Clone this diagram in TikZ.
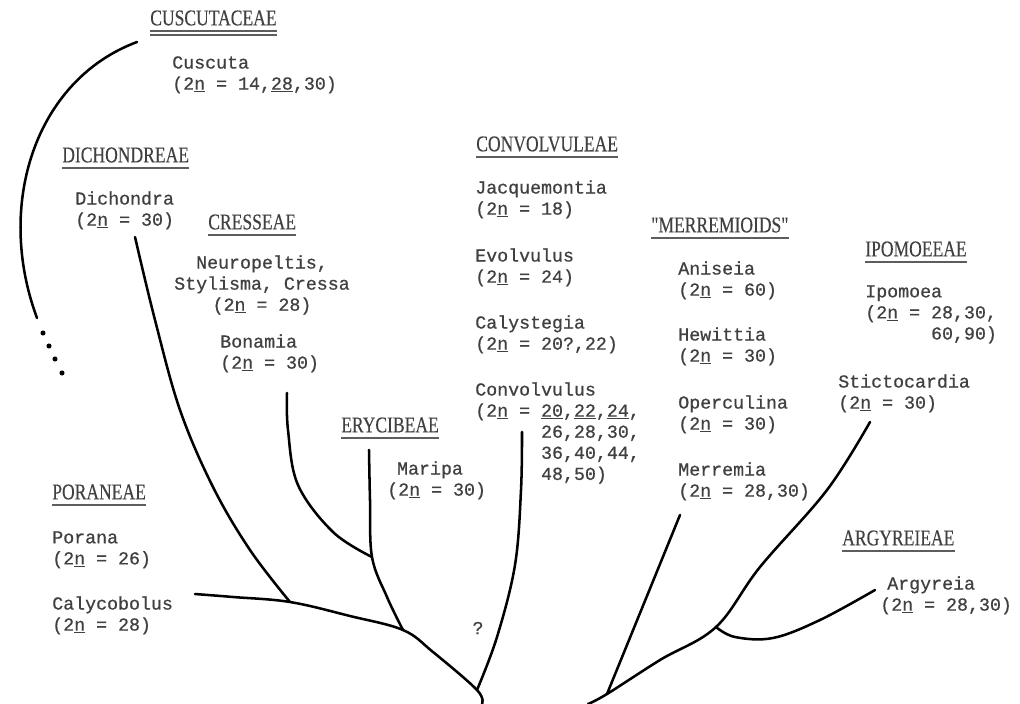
\documentclass[tikz,border=0pt]{standalone}
\usepackage{fontspec}
\setmonofont[FakeBold=0.7]{Liberation Mono}
\newfontfamily\headfont[FakeStretch=0.78,FakeBold=0.3]{Liberation Serif}
\usepackage{tikz}
\usetikzlibrary{positioning}
\definecolor{ink}{HTML}{404040}
\newcommand{\twon}{2\underline{n}}
\newcommand{\cont}{\hphantom{(2n = }}

\begin{document}
\begin{tikzpicture}[x=0.025cm,y=-0.025cm,
  tribe/.style={anchor=west,inner sep=0pt,text=ink,font=\headfont\fontsize{16}{16}\selectfont},
  taxon/.style={anchor=north west,inner sep=0pt,align=left,text=ink,font=\ttfamily\fontsize{13}{15}\selectfont},
  branch/.style={line width=1.8pt,line cap=round,line join=round},
  uline/.style={ink!85,line width=1.1pt}]
  \useasboundingbox (0,0) rectangle (1020,704);

  % tribes
  \node[tribe] (cusc) at (150,18) {CUSCUTACEAE};
  \node[tribe] (dich) at (62,155) {DICHONDREAE};
  \node[tribe] (cres) at (208,222) {CRESSEAE};
  \node[tribe] (eryc) at (341,425) {ERYCIBEAE};
  \node[tribe] (conv) at (476,144) {CONVOLVULEAE};
  \node[tribe] (merr) at (651,225) {"MERREMIOIDS"};
  \node[tribe] (ipom) at (865,249) {IPOMOEEAE};
  \node[tribe] (pora) at (52,492) {PORANEAE};
  \node[tribe] (argy) at (842,538) {ARGYREIEAE};
  \foreach \h in {dich,cres,eryc,conv,merr,ipom,pora,argy}
    {\draw[uline] ([yshift=-3.5pt]\h.south west)--([yshift=-3.5pt]\h.south east);}
  \draw[uline] ([yshift=-3.5pt]cusc.south west)--([yshift=-3.5pt]cusc.south east);
  \draw[uline] ([yshift=-6.5pt]cusc.south west)--([yshift=-6.5pt]cusc.south east);

  % genera
  \node[taxon] (cuscuta) at (172,56) {Cuscuta\\(\twon{} = 14,\underline{28},30)};
  \node[taxon] (dichondra) at (75,191) {Dichondra\\(\twon{} = 30)};
  \node[taxon,anchor=north,align=center] (neuro) at (262,255) {Neuropeltis,\\Stylisma, Cressa\\(\twon{} = 28)};
  \node[taxon] (bonamia) at (220,334) {Bonamia\\(\twon{} = 30)};
  \node[taxon] (maripa) at (387,461) {\hspace*{7pt}Maripa\\(\twon{} = 30)};
  \node[taxon] (jacq) at (475,180) {Jacquemontia\\(\twon{} = 18)};
  \node[taxon] (evol) at (475,248) {Evolvulus\\(\twon{} = 24)};
  \node[taxon] (caly) at (475,315) {Calystegia\\(\twon{} = 20?,22)};
  \node[taxon] (convolv) at (475,382) {Convolvulus\\(\twon{} = \underline{20},\underline{22},\underline{24},\\
    \cont 26,28,30,\\ \cont 36,40,44,\\ \cont 48,50)};
  \node[taxon] (anis) at (678,261) {Aniseia\\(\twon{} = 60)};
  \node[taxon] (hewi) at (678,327) {Hewittia\\(\twon{} = 30)};
  \node[taxon] (operc) at (678,395) {Operculina\\(\twon{} = 30)};
  \node[taxon] (merrem) at (678,462) {Merremia\\(\twon{} = 28,30)};
  \node[taxon] (ipomoea) at (865,285) {Ipomoea\\(\twon{} = 28,30,\\ \cont 60,90)};
  \node[taxon] (stict) at (838,374) {Stictocardia\\(\twon{} = 30)};
  \node[taxon] (porana) at (52,531) {Porana\\(\twon{} = 26)};
  \node[taxon] (calyco) at (52,596) {Calycobolus\\(\twon{} = 28)};
  \node[taxon] (argyreia) at (880,576) {\hspace*{5pt}Argyreia\\(\twon{} = 28,30)};
  \node[taxon,anchor=center] (qm) at (478,628) {?};

  % branch points
  \coordinate (rootL) at (482,704);
  \coordinate (jq) at (477,690);
  \coordinate (je) at (403,630);
  \coordinate (jd) at (290,602);
  \coordinate (jm) at (372,557);
  \coordinate (calyend) at (195,594);
  \coordinate (maripaend) at (369,450);
  \coordinate (bonamiaend) at (287,393);
  \coordinate (dichend) at (135,237);
  \coordinate (convend) at (522,432);
  \coordinate (rootR) at (588,704);
  \coordinate (jr) at (607,694);
  \coordinate (ja) at (716,627);
  \coordinate (merend) at (680,515);
  \coordinate (stictend) at (870,422);
  \coordinate (argend) at (875,590);
  \coordinate (cusstart) at (137,42);
  \coordinate (cusend) at (37,318);

  % tree
  \draw[branch] plot[smooth,tension=0.6] coordinates {(rootL) (jq) (433,652) (je) (350,616) (jd) (233,597) (calyend)};
  \draw[branch] plot[smooth,tension=0.6] coordinates {(jq) (497,637) (515,565) (521,490) (convend)};
  \draw[branch] plot[smooth,tension=0.6] coordinates {(je) (387,597) (jm) (370,500) (maripaend)};
  \draw[branch] plot[smooth,tension=0.6] coordinates {(jm) (333,532) (298,485) (288,430) (bonamiaend)};
  \draw[branch] plot[smooth,tension=0.6] coordinates {(jd) (250,550) (213,487) (180,410) (155,320) (dichend)};
  \draw[branch] plot[smooth,tension=0.6] coordinates {(rootR) (jr) (660,660) (ja) (760,567) (827,490) (stictend)};
  \draw[branch] (jr)--(merend);
  \draw[branch] plot[smooth,tension=0.6] coordinates {(ja) (735,637) (773,638) (820,620) (argend)};
  \draw[branch] (cusstart) .. controls (35,80) and (-5,205) .. (cusend);
  \foreach \p in {(43,333),(49,346),(55,359),(62,373)}
    {\fill \p circle (1.8pt);}
\end{tikzpicture}
\end{document}
